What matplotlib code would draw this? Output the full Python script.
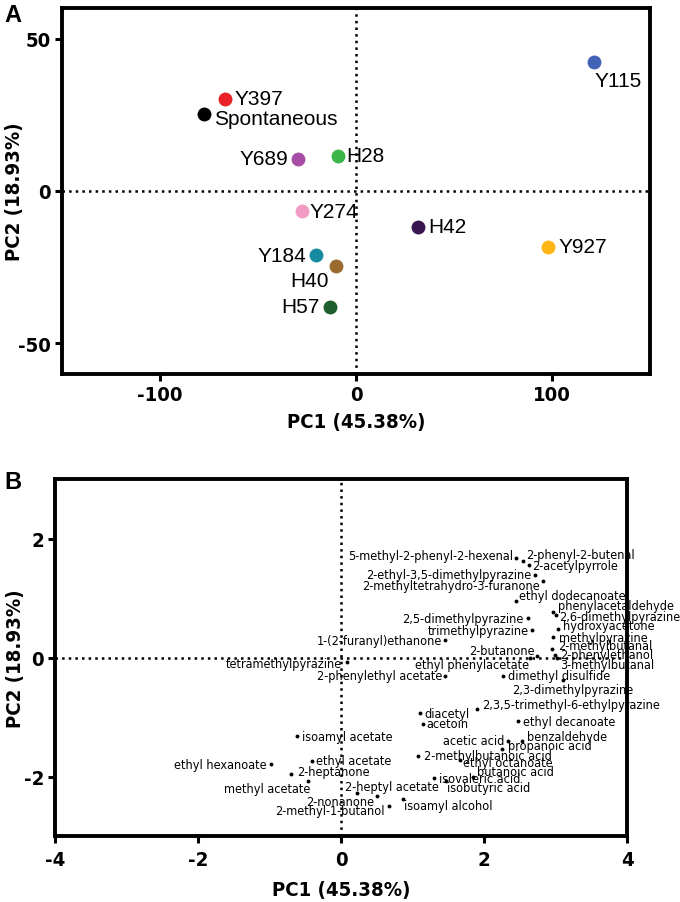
import matplotlib
matplotlib.use("Agg")
import matplotlib.pyplot as plt
from matplotlib import font_manager
from matplotlib.textpath import TextPath

plt.rcParams['font.family'] = ['Liberation Sans', 'DejaVu Sans']
plt.rcParams['axes.unicode_minus'] = False

# Panel A: scores
cepas = ["Y115", "Y397", "Spontaneous", "Y689", "H28", "Y274", "H42", "Y927", "Y184", "H40", "H57"]
pc1_a = [121.5, -67.0, -77.3, -29.6, -9.3, -27.6, 31.6, 98.0, -20.6, -10.4, -13.3]
pc2_a = [42.3, 30.3, 25.2, 10.5, 11.6, -6.7, -11.8, -18.3, -21.1, -24.5, -38.0]
colores_a = ["#4262B7", "#EA2227", "#000000", "#A74DA6", "#3BB54A", "#F29CC3",
             "#3A1651", "#FDB614", "#168AA0", "#9A6B2E", "#1F5F2D"]

# Panel B: loadings
compuestos = [
    "5-methyl-2-phenyl-2-hexenal", "2-phenyl-2-butenal", "2-acetylpyrrole",
    "2-ethyl-3,5-dimethylpyrazine", "2-methyltetrahydro-3-furanone", "ethyl dodecanoate",
    "phenylacetaldehyde", "2,6-dimethylpyrazine", "2,5-dimethylpyrazine", "hydroxyacetone",
    "trimethylpyrazine", "methylpyrazine", "1-(2-furanyl)ethanone", "2-methylbutanal",
    "2-butanone", "ethyl phenylacetate", "2-phenylethanol", "3-methylbutanal",
    "tetramethylpyrazine", "2-phenylethyl acetate", "dimethyl disulfide", "2,3-dimethylpyrazine",
    "2,3,5-trimethyl-6-ethylpyrazine", "diacetyl", "acetoin", "ethyl decanoate",
    "isoamyl acetate", "acetic acid", "benzaldehyde", "propanoic acid",
    "2-methylbutanoic acid", "ethyl octanoate", "ethyl acetate", "ethyl hexanoate",
    "butanoic acid", "2-heptanone", "isovaleric acid", "isobutyric acid",
    "methyl acetate", "2-heptyl acetate", "2-nonanone", "isoamyl alcohol", "2-methyl-1-butanol"]
pc1_b = [2.45, 2.54, 2.63, 2.72, 2.82, 2.45, 2.97, 3.00, 2.61, 3.04,
         2.67, 2.96, 1.46, 2.95, 2.74, 2.65, 2.99, 3.02, 0.09, 1.46,
         2.27, 3.10, 1.90, 1.10, 1.14, 2.48, -0.61, 2.33, 2.53, 2.25,
         1.08, 1.67, -0.40, -0.98, 1.84, -0.70, 1.30, 1.47, -0.46, 0.22,
         0.51, 0.87, 0.67]
pc2_b = [1.67, 1.63, 1.55, 1.39, 1.29, 0.95, 0.77, 0.71, 0.66, 0.48,
         0.46, 0.34, 0.29, 0.15, 0.02, 0.00, 0.04, -0.01, -0.07, -0.31,
         -0.31, -0.38, -0.87, -0.94, -1.11, -1.07, -1.32, -1.40, -1.40, -1.53,
         -1.66, -1.72, -1.74, -1.79, -2.00, -1.96, -2.03, -2.07, -2.07, -2.28,
         -2.33, -2.37, -2.50]

# desplazamiento de etiquetas (px) y alineacion
etq_a = {"Y115": (0, -19, "left"), "Y397": (10, 0, "left"), "Spontaneous": (10, -4, "left"),
         "Y689": (-10, 0, "right"), "H28": (8, 0, "left"), "Y274": (8, 0, "left"),
         "H42": (10, 0, "left"), "Y927": (10, 0, "left"), "Y184": (-9, 0, "right"),
         "H40": (-26, -15, "center"), "H57": (-10, 0, "right")}
etq_b = [(-3, 3, "right"), (4, 6, "left"), (3, 0, "left"), (-4, 0, "right"), (-3, -5, "right"),
         (3, 5, "left"), (5, 6, "left"), (4, -1, "left"), (-4, 0, "right"), (5, 3, "left"),
         (-3, 0, "right"), (6, 0, "left"), (-3, 0, "right"), (6, 3, "left"), (-2, 6, "right"),
         (-1, -7, "right"), (5, 1, "left"), (3, -6, "left"), (-5, -2, "right"), (-3, 0, "right"),
         (5, 0, "left"), (10, -9, "center"), (5, 5, "left"), (5, 0, "left"), (4, 0, "left"),
         (5, 0, "left"), (5, 0, "left"), (-3, 0, "right"), (5, 4, "left"), (6, 3, "left"),
         (6, 1, "left"), (3, -3, "left"), (4, 1, "left"), (-4, 0, "right"), (4, 5, "left"),
         (6, 3, "left"), (5, 0, "left"), (1, -7, "left"), (2, -8, "right"), (-12, 7, "left"),
         (-3, -5, "right"), (1, -7, "left"), (-4, -4, "right")]


# buscar fuente estrecha (si hay)
def buscar_estrecha(negrita):
    for f in font_manager.fontManager.ttflist:
        estrecho = ('Narrow' in f.name or 'Condensed' in f.name or
                    f.stretch in ('condensed', 'semi-condensed'))
        w = f.weight if isinstance(f.weight, int) else (700 if 'bold' in str(f.weight) else 400)
        if estrecho and (w >= 700) == negrita and 'Oblique' not in f.fname and 'Italic' not in f.fname:
            return font_manager.FontProperties(fname=f.fname)
    return font_manager.FontProperties(family='Liberation Sans', weight='bold' if negrita else 'normal')


def tam_para(prop, texto, ancho_px):
    w = TextPath((0, 0), texto, size=10, prop=prop).get_extents().width
    return 10 * ancho_px / (w * 100 / 72)


f_neg = buscar_estrecha(True)
f_reg = buscar_estrecha(False)
f_a = font_manager.FontProperties(family='Liberation Sans')
t_eje = tam_para(f_neg, "PC1 (45.38%)", 135)
t_b = tam_para(f_reg, "2-methyltetrahydro-3-furanone", 177)
t_a = tam_para(f_a, "Spontaneous", 121)

W, H = 680, 903
fig = plt.figure(figsize=(W / 100, H / 100), dpi=100)
px = 0.72  # px -> pt


def estilo(ax, xlim, ylim, xt, yt):
    ax.set_xlim(*xlim)
    ax.set_ylim(*ylim)
    ax.set_xticks(xt)
    ax.set_yticks(yt)
    ax.set_xticklabels([str(v) for v in xt])
    ax.set_yticklabels([str(v) for v in yt])
    for s in ax.spines.values():
        s.set_linewidth(2.8)
    ax.tick_params(direction='out', length=5, width=2.2, pad=3)
    for t in ax.get_xticklabels() + ax.get_yticklabels():
        t.set_fontproperties(f_neg)
        t.set_fontsize(t_eje)
    ax.axhline(0, color='black', lw=1.8, ls=':', zorder=1)
    ax.axvline(0, color='black', lw=1.8, ls=':', zorder=1)
    ax.set_xlabel("PC1 (45.38%)", fontproperties=f_neg, fontsize=t_eje, labelpad=6)
    ax.set_ylabel("PC2 (18.93%)", fontproperties=f_neg, fontsize=t_eje)


# --- A ---
axA = fig.add_axes([62 / W, 1 - 375 / H, (650 - 62) / W, (375 - 9) / H])
estilo(axA, (-150, 150), (-60, 60), [-100, 0, 100], [-50, 0, 50])
for n, x, y, c in zip(cepas, pc1_a, pc2_a, colores_a):
    axA.plot(x, y, 'o', color=c, ms=10, mec='none', zorder=3)
    dx, dy, ha = etq_a[n]
    axA.annotate(n, (x, y), xytext=(dx * px, dy * px), textcoords='offset points',
                 ha=ha, va='center', fontsize=t_a)
axA.yaxis.set_label_coords(-0.064, 0.5)
fig.text(4 / W, 1 - 16 / H, "A", fontsize=17, fontweight='bold', va='center')

# --- B ---
axB = fig.add_axes([55 / W, 1 - 837 / H, (627 - 55) / W, (837 - 480) / H])
estilo(axB, (-4, 4), (-3, 3), [-4, -2, 0, 2, 4], [-2, 0, 2])
axB.xaxis.labelpad = 8
axB.tick_params(axis='x', pad=5)
for n, x, y, (dx, dy, ha) in zip(compuestos, pc1_b, pc2_b, etq_b):
    axB.plot(x, y, 'o', color='black', ms=2.8, mec='none', zorder=3)
    axB.annotate(n, (x, y), xytext=(dx * px, dy * px), textcoords='offset points',
                 ha=ha, va='center', fontproperties=f_reg, fontsize=t_b,
                 annotation_clip=False)
axB.yaxis.set_label_coords(-0.052, 0.5)
fig.text(4 / W, 1 - 483 / H, "B", fontsize=17, fontweight='bold', va='center')

fig.savefig("out.png", dpi=100)
